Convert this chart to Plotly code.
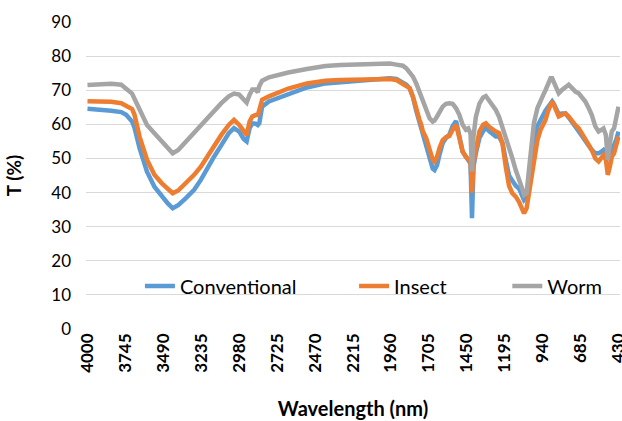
import plotly.graph_objects as go

wavenumber = [4000, 3906, 3840, 3773, 3740, 3700, 3684, 3650, 3600, 3550, 3500, 3460, 3427, 3390, 3340,
              3283, 3238, 3190, 3149, 3100, 3050, 3015, 2980, 2950, 2930, 2910, 2892, 2870, 2855, 2845,
              2826, 2780, 2725, 2650, 2525, 2400, 2300, 2168, 2050, 1968, 1923, 1880, 1856, 1834, 1812,
              1790, 1768, 1756, 1745, 1723, 1700, 1679, 1667, 1650, 1634, 1612, 1590, 1567, 1545, 1522,
              1500, 1478, 1456, 1440, 1425, 1415, 1405, 1389, 1365, 1340, 1322, 1300, 1278, 1255, 1233,
              1210, 1188, 1166, 1144, 1121, 1099, 1082, 1065, 1048, 1032, 1015, 999, 975, 954, 935,
              921, 905, 887, 876, 865, 850, 832, 810, 787, 765, 742, 720, 698, 675, 653,
              630, 610, 586, 564, 545, 531, 515, 502, 488, 475, 460, 445, 430]

conventional = [64.6, 64.4, 64.0, 63.6, 62.8, 60.8, 59.0, 53.0, 46.1, 41.7, 38.8, 36.8, 35.4, 36.3, 38.3,
                40.8, 43.7, 47.6, 50.5, 53.9, 57.4, 58.9, 57.9, 55.7, 55.0, 58.9, 60.3, 60.2, 59.8, 60.3,
                65.2, 66.7, 67.6, 69.0, 70.8, 72.0, 72.4, 72.9, 73.2, 73.5, 73.3, 72.4, 71.6, 70.6, 68.0,
                64.0, 60.8, 59.0, 57.0, 54.0, 50.0, 47.0, 46.6, 48.0, 51.0, 54.5, 56.0, 57.0, 59.5, 61.0,
                56.5, 52.0, 50.5, 49.5, 48.5, 32.5, 47.5, 51.5, 56.0, 58.0, 59.0, 58.0, 57.0, 56.4, 56.4,
                54.5, 49.5, 45.0, 43.5, 42.0, 41.2, 39.8, 37.8, 38.5, 41.7, 47.0, 54.0, 59.5, 61.5, 63.0,
                64.0, 65.0, 66.2, 66.7, 66.0, 64.5, 63.0, 63.2, 63.2, 62.0, 60.3, 59.3, 58.0, 56.5, 55.0,
                53.5, 52.5, 51.5, 51.5, 52.0, 52.5, 51.5, 49.6, 51.0, 52.5, 53.5, 55.5, 57.9]

insect = [66.8, 66.8, 66.6, 66.2, 65.5, 64.5, 62.8, 56.4, 49.6, 45.2, 42.7, 41.2, 39.8, 40.6, 42.7,
          45.2, 47.6, 51.0, 53.9, 56.9, 59.8, 61.3, 59.8, 57.9, 56.9, 60.8, 62.3, 62.7, 62.7, 64.2,
          67.2, 68.2, 69.3, 70.5, 72.0, 72.8, 73.0, 73.2, 73.3, 73.3, 73.0, 72.0, 71.4, 70.6, 68.1,
          64.2, 61.3, 59.8, 57.9, 56.0, 52.0, 49.6, 49.1, 50.5, 53.0, 55.4, 56.2, 56.6, 58.4, 59.9,
          56.0, 52.0, 50.5, 49.8, 49.1, 40.0, 48.6, 52.4, 57.9, 59.9, 60.3, 59.3, 58.4, 57.9, 57.4,
          54.4, 47.6, 42.0, 39.8, 38.8, 37.3, 35.9, 33.9, 35.4, 39.8, 45.2, 50.5, 55.4, 58.4, 59.9,
          61.3, 63.7, 66.2, 66.7, 65.7, 64.2, 62.3, 62.8, 63.2, 62.3, 60.8, 59.8, 58.9, 57.4, 55.7,
          54.0, 52.5, 50.0, 49.1, 50.0, 51.0, 49.6, 45.2, 47.6, 50.5, 51.5, 54.0, 56.4]

worm = [71.5, 71.8, 71.9, 71.6, 70.5, 69.0, 67.5, 64.5, 59.8, 57.4, 54.9, 52.8, 51.5, 52.5, 54.9,
        57.4, 59.8, 62.3, 64.2, 66.2, 68.2, 69.0, 68.7, 67.2, 66.4, 68.7, 70.2, 70.2, 69.4, 71.2,
        72.8, 73.8, 74.5, 75.2, 76.2, 77.1, 77.4, 77.6, 77.9, 77.8, 77.5, 77.2, 76.4, 75.4, 74.0,
        72.0, 69.6, 68.0, 66.2, 64.2, 61.8, 60.8, 61.1, 62.3, 63.7, 65.2, 66.0, 66.2, 66.0, 64.7,
        62.8, 59.9, 58.4, 58.8, 57.4, 46.1, 56.4, 62.2, 66.1, 67.9, 68.3, 67.1, 65.7, 64.2, 62.2,
        59.3, 56.4, 53.5, 50.1, 46.6, 43.2, 41.7, 39.3, 39.8, 46.6, 53.5, 60.3, 64.8, 67.2, 68.7,
        70.0, 72.0, 73.5, 73.5, 72.5, 71.0, 69.1, 70.1, 71.0, 71.6, 70.6, 69.6, 69.1, 68.1, 66.7,
        64.7, 62.8, 59.4, 57.9, 58.4, 58.8, 56.9, 49.6, 54.4, 57.9, 58.8, 61.8, 65.2]

x_ticks = [4000, 3745, 3490, 3235, 2980, 2725, 2470, 2215, 1960, 1705, 1450, 1195, 940, 685, 430]
y_ticks = [0, 10, 20, 30, 40, 50, 60, 70, 80, 90]

series_names = ["Conventional", "Insect", "Worm"]
series_values = [conventional, insect, worm]
colors = ["#5B9BD5", "#ED7D31", "#A5A5A5"]
legend_ids = ["legend", "legend2", "legend3"]
legend_x = [0.101, 0.502, 0.789]

FONT = "Lato"

fig = go.Figure()
for name, vals, col, lg in zip(series_names, series_values, colors, legend_ids):
    fig.add_trace(go.Scatter(x=wavenumber, y=vals, mode="lines", name=name, showlegend=True,
                             line=dict(color=col, width=4.5), legend=lg))

leg_common = dict(orientation="h", yanchor="middle", xanchor="left", y=0.14, visible=True,
                  bgcolor="rgba(0,0,0,0)", font=dict(family=FONT, size=20, color="#000000"),
                  itemwidth=30)

fig.update_layout(
    width=622, height=421,
    margin=dict(l=86, r=2, t=22, b=92),
    showlegend=True,
    paper_bgcolor="white", plot_bgcolor="white",
    font=dict(family=FONT, color="#000000"),
    legend=dict(x=legend_x[0], **leg_common),
    legend2=dict(x=legend_x[1], **leg_common),
    legend3=dict(x=legend_x[2], **leg_common),
    xaxis=dict(range=[4010, 420], tickmode="array", tickvals=x_ticks,
               ticktext=[str(t) for t in x_ticks], tickangle=-90,
               tickfont=dict(family=FONT, size=17, weight="bold", color="#000000"),
               ticklabeloverflow="allow",
               showgrid=False, zeroline=False, showline=False, ticks="",
               title=dict(text="Wavelength (nm)", font=dict(family=FONT, size=20, weight="bold"),
                          standoff=30),
               automargin=False),
    yaxis=dict(range=[0, 90], tickmode="array", tickvals=y_ticks,
               tickfont=dict(family=FONT, size=17, color="#000000"),
               showgrid=True, gridcolor="#D9D9D9", gridwidth=1.3, zeroline=False,
               showline=False, ticks="", ticklabelstandoff=14,
               title=dict(text="T (%)", font=dict(family=FONT, size=19, weight="bold"),
                          standoff=24),
               automargin=False),
)

fig.write_html("out.html", config={"displayModeBar": False},
               post_script="document.body.style.margin='0px';document.body.style.overflow='hidden';")
